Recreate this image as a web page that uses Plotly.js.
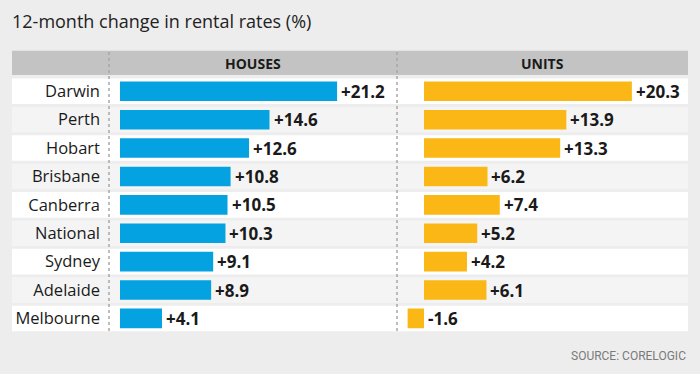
<!DOCTYPE html>
<html>
<head>
<meta charset="utf-8">
<script src="https://cdn.plot.ly/plotly-3.0.1.min.js"></script>
<style>html,body{margin:0;padding:0;background:#ededed;}#chart{width:700px;height:374px;}</style>
</head>
<body>
<div id="chart"></div>
<script>
const cities = ["Darwin","Perth","Hobart","Brisbane","Canberra","National","Sydney","Adelaide","Melbourne"];
const houses = [21.2,14.6,12.6,10.8,10.5,10.3,9.1,8.9,4.1];
const units = [20.3,13.9,13.3,6.2,7.4,5.2,4.2,6.1,-1.6];
const columnTitles = ["HOUSES","UNITS"];
const titleText = "12-month change in rental rates (%)";
const sourceText = "SOURCE: CORELOGIC";

const W = 700, H = 374;
const blue = "#05a2e2", yellow = "#fbb715";
const fmt = v => (v > 0 ? "+" : "") + v.toFixed(1);

const px = x => x / W;
const py = y => 1 - y / H;

const xDom1 = [px(109), px(397)];
const xDom2 = [px(397), px(688)];
const yDom = [py(332.6), py(77.1)];
const scale = 10.24; // px per unit
const xRange1 = [-(120 - 109) / scale, (397 - 120) / scale];
const xRange2 = [-(424 - 397) / scale, (688 - 424) / scale];

const traces = [
  {type:"bar", orientation:"h", x:houses, y:cities, xaxis:"x", yaxis:"y",
   marker:{color:blue}, width:0.69, hoverinfo:"none"},
  {type:"bar", orientation:"h", x:units, y:cities, xaxis:"x2", yaxis:"y2",
   marker:{color:yellow}, width:0.69, hoverinfo:"none"}
];

const shapes = [];
shapes.push({type:"rect", xref:"paper", yref:"paper", x0:px(12), x1:px(688), y0:py(75), y1:py(50.7),
  fillcolor:"#c3c3c3", line:{width:0}, layer:"below"});
cities.forEach((c,i)=>{
  shapes.push({type:"rect", xref:"paper", yref:"y", x0:px(12), x1:px(688), y0:i-0.45, y1:i+0.45,
    fillcolor: i%2===0 ? "#ffffff" : "#f4f4f4", line:{width:0}, layer:"below"});
});
[109, 397].forEach(x=>{
  shapes.push({type:"line", xref:"paper", yref:"paper", x0:px(x), x1:px(x), y0:py(52), y1:py(332),
    line:{color:"#a8a8a8", width:1.5, dash:"dot"}, layer:"above"});
});

const valFont = {family:"Open Sans", size:17, color:"#1a1a1a", weight:700};
const annotations = [
  {text:"<b>"+columnTitles[0]+"</b>", xref:"paper", yref:"paper", x:(xDom1[0]+xDom1[1])/2, y:py(63),
   showarrow:false, xanchor:"center", yanchor:"middle", font:{family:"Open Sans", size:14, color:"#1a1a1a"}},
  {text:"<b>"+columnTitles[1]+"</b>", xref:"paper", yref:"paper", x:(xDom2[0]+xDom2[1])/2, y:py(63),
   showarrow:false, xanchor:"center", yanchor:"middle", font:{family:"Open Sans", size:14, color:"#1a1a1a"}},
  {text:sourceText, xref:"paper", yref:"paper", x:px(688), y:py(356),
   showarrow:false, xanchor:"right", yanchor:"middle", font:{family:"Roboto", size:12, color:"#7a7a7a"}}
];
houses.forEach((v,i)=>annotations.push({text:"<b>"+fmt(v)+"</b>", xref:"x", yref:"y", x:Math.max(v,0), y:cities[i],
  showarrow:false, xanchor:"left", yanchor:"middle", xshift:2, font:valFont}));
units.forEach((v,i)=>annotations.push({text:"<b>"+fmt(v)+"</b>", xref:"x2", yref:"y2", x:Math.max(v,0), y:cities[i],
  showarrow:false, xanchor:"left", yanchor:"middle", xshift:2, font:valFont}));

const layout = {
  width:W, height:H, margin:{l:0,r:0,t:0,b:0},
  paper_bgcolor:"#ededed", plot_bgcolor:"rgba(0,0,0,0)",
  showlegend:false,
  title:{text:titleText, xref:"container", yref:"container", x:px(12), xanchor:"left",
    y:py(22), yanchor:"middle", font:{family:"Open Sans", size:18, color:"#222"}},
  xaxis:{domain:xDom1, range:xRange1, visible:false, fixedrange:true},
  xaxis2:{domain:xDom2, range:xRange2, visible:false, fixedrange:true},
  yaxis:{domain:yDom, anchor:"x", type:"category", categoryorder:"array", categoryarray:cities,
    range:[8.5,-0.5], showgrid:false, zeroline:false, showline:false, ticks:"",
    ticklabelstandoff:8, tickfont:{family:"Open Sans", size:16.5, color:"#1a1a1a"}, fixedrange:true},
  yaxis2:{domain:yDom, anchor:"x2", type:"category", categoryorder:"array", categoryarray:cities,
    range:[8.5,-0.5], showgrid:false, zeroline:false, showline:false, showticklabels:false, ticks:"", fixedrange:true},
  shapes:shapes, annotations:annotations
};

Plotly.newPlot("chart", traces, layout, {displayModeBar:false, staticPlot:true});
</script>
</body>
</html>
